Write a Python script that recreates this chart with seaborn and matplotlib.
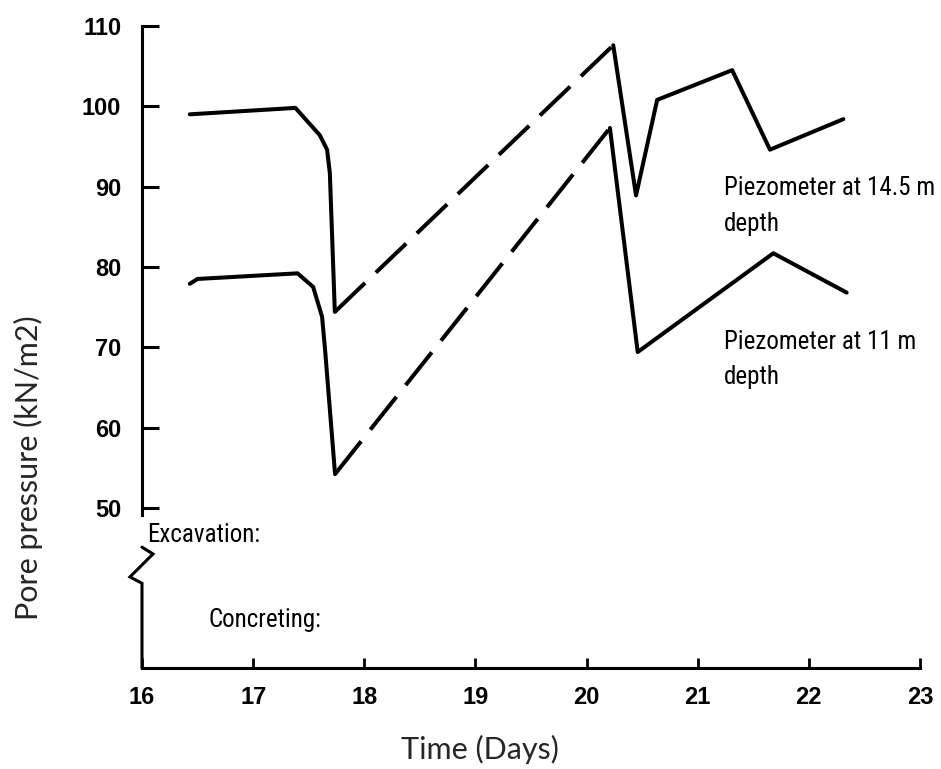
import pandas as pd
import seaborn as sns
import matplotlib
matplotlib.use("Agg")
import matplotlib.pyplot as plt
from matplotlib import font_manager

# Piezometer at 14.5 m depth: measured before / after the gap (gap drawn dashed)
deep_days_before = [16.43, 17.38, 17.60, 17.665, 17.69, 17.735]
deep_kpa_before = [99.0, 99.8, 96.4, 94.6, 91.7, 74.4]
deep_days_after = [20.24, 20.445, 20.635, 21.31, 21.65, 22.31]
deep_kpa_after = [107.6, 88.9, 100.8, 104.5, 94.6, 98.4]

# Piezometer at 11 m depth
shallow_days_before = [16.43, 16.50, 17.40, 17.54, 17.62, 17.647, 17.737]
shallow_kpa_before = [77.9, 78.5, 79.2, 77.5, 73.8, 69.7, 54.2]
shallow_days_after = [20.21, 20.46, 21.68, 22.34]
shallow_kpa_after = [97.3, 69.4, 81.7, 76.8]

day_ticks = [16, 17, 18, 19, 20, 21, 22, 23]
kpa_ticks = [50, 60, 70, 80, 90, 100, 110]

installed = {f.name for f in font_manager.fontManager.ttflist}
narrow, note_size = "Liberation Sans", 16
for cand in ["Liberation Sans Narrow", "Roboto Condensed", "Open Sans Condensed"]:
    if cand in installed:
        narrow, note_size = cand, 18
        break
label_font = "Lato" if "Lato" in installed else "DejaVu Sans"

# build long table: one unit per segment, dashed segment bridges the gap
rows = []
curves = [(deep_days_before, deep_kpa_before, deep_days_after, deep_kpa_after),
          (shallow_days_before, shallow_kpa_before, shallow_days_after, shallow_kpa_after)]
for i, (db, kb, da, ka) in enumerate(curves):
    for d, k in zip(db, kb):
        rows.append((f"{i}a", "measured", d, k))
    rows.append((f"{i}g", "gap", db[-1], kb[-1]))
    rows.append((f"{i}g", "gap", da[0], ka[0]))
    for d, k in zip(da, ka):
        rows.append((f"{i}b", "measured", d, k))
df = pd.DataFrame(rows, columns=["segment", "kind", "day", "kpa"])

sns.set_theme(style="white")
plt.rcParams["font.family"] = ["Liberation Sans", "DejaVu Sans"]

fig = plt.figure(figsize=(9.41, 7.69), dpi=100)
ax = fig.add_axes([0.1509, 0.1313, 0.8268, 0.8349])

sns.lineplot(data=df, x="day", y="kpa", units="segment", style="kind",
             dashes={"measured": "", "gap": (10.4, 3.7)},
             estimator=None, sort=False, color="black", lw=2.9,
             legend=False, ax=ax,
             solid_joinstyle="round", solid_capstyle="round", dash_capstyle="butt")

ax.set_xlim(16, 23)
ax.set_ylim(30.05, 110)
ax.set_xticks(day_ticks)
ax.set_yticks(kpa_ticks)
ax.set_xlabel("")
ax.set_ylabel("")

for side in ["top", "right"]:
    ax.spines[side].set_visible(False)
for side in ["left", "bottom"]:
    ax.spines[side].set_color("black")
    ax.spines[side].set_linewidth(2.2)
ax.spines["left"].set_bounds(49.1, 110)

# axis break and lower part of y axis
ax.plot([16, 16.099, 15.892, 16, 16], [45.1, 44.25, 41.4, 40.6, 30.05],
        color="black", lw=2.2, clip_on=False, solid_joinstyle="miter")

ax.tick_params(axis="y", direction="in", length=12, width=2.2, pad=15,
               labelsize=17, colors="black", left=True)
ax.tick_params(axis="x", direction="in", length=7, width=2.0, pad=13,
               labelsize=17, colors="black", bottom=True)
for lbl in ax.get_xticklabels() + ax.get_yticklabels():
    lbl.set_fontweight("bold")

W, H = 941, 769
def ftext(x, y, s, **kw):
    fig.text(x / W, 1 - y / H, s, **kw)

ftext(28, 468, "Pore pressure (kN/m2)", rotation=90, ha="center", va="center",
      fontsize=22, family=label_font)
ftext(480, 749, "Time (Days)", ha="center", va="center", fontsize=22, family=label_font)

note = dict(ha="left", va="baseline", fontsize=note_size, family=narrow, color="black")
ftext(724, 195, "Piezometer at 14.5 m", **note)
ftext(724, 231, "depth", **note)
ftext(724, 349, "Piezometer at 11 m", **note)
ftext(724, 384, "depth", **note)
ftext(147, 542, "Excavation:", **note)
ftext(209, 627, "Concreting:", **note)

fig.savefig("out.png", dpi=100)
